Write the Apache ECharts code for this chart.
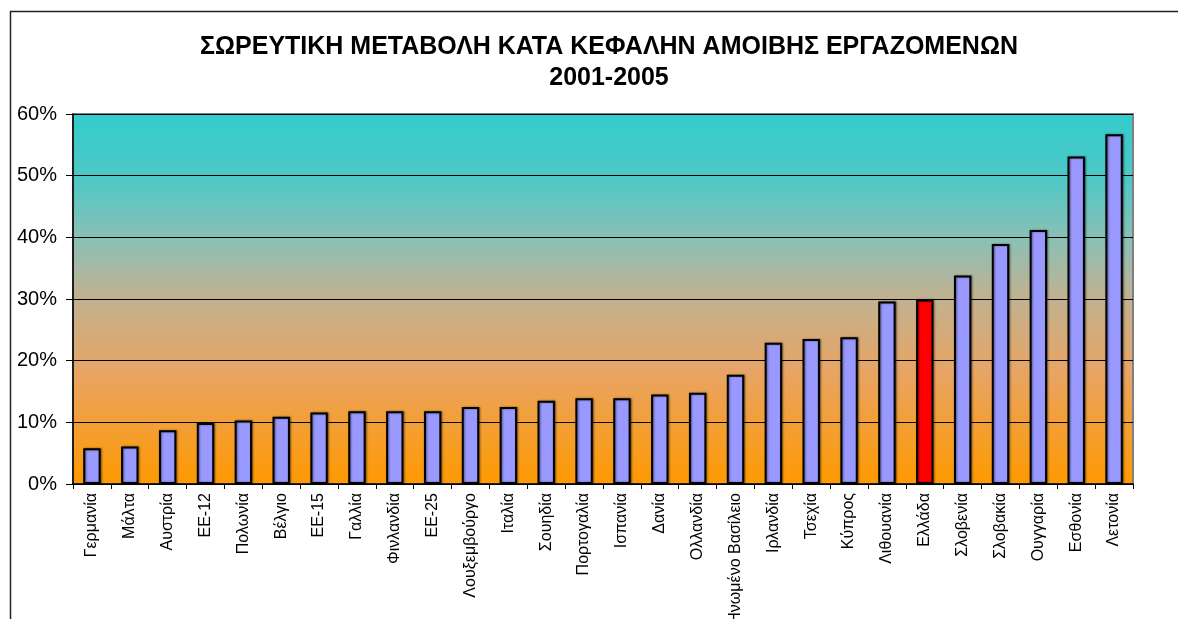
<!DOCTYPE html>
<html>
<head>
<meta charset="utf-8">
<script src="https://cdn.jsdelivr.net/npm/echarts@6/dist/echarts.min.js"></script>
<style>
  html, body { margin: 0; padding: 0; background: #fff; }
  #chart { width: 1178px; height: 619px; }
</style>
</head>
<body>
<div id="chart"></div>
<script>
(function () {
  "use strict";

  var TITLE = "ΣΩΡΕΥΤΙΚΗ ΜΕΤΑΒΟΛΗ ΚΑΤΑ ΚΕΦΑΛΗΝ ΑΜΟΙΒΗΣ ΕΡΓΑΖΟΜΕΝΩΝ\n2001-2005";

  var countries = [
    "Γερμανία", "Μάλτα", "Αυστρία", "ΕΕ-12", "Πολωνία", "Βέλγιο", "ΕΕ-15",
    "Γαλλία", "Φινλανδία", "ΕΕ-25", "Λουξεμβούργο", "Ιταλία", "Σουηδία",
    "Πορτογαλία", "Ισπανία", "Δανία", "Ολλανδία", "Ηνωμένο Βασίλειο",
    "Ιρλανδία", "Τσεχία", "Κύπρος", "Λιθουανία", "Ελλάδα", "Σλοβενία",
    "Σλοβακία", "Ουγγαρία", "Εσθονία", "Λετονία"
  ];

  // cumulative change, %
  var change = [
    5.8, 6.1, 8.7, 9.9, 10.3, 10.9, 11.6,
    11.8, 11.8, 11.8, 12.5, 12.5, 13.5,
    13.9, 13.9, 14.5, 14.8, 17.7,
    22.9, 23.5, 23.8, 29.6, 29.9, 33.8,
    38.9, 41.2, 53.1, 56.7
  ];

  var highlight = "Ελλάδα";

  var BAR = "#9999FF";
  var BAR_HI = "#FF0000";
  var FONT = "Arial, 'Liberation Sans', sans-serif";

  var chart = echarts.init(document.getElementById("chart"));

  chart.setOption({
    animation: false,
    backgroundColor: "#fff",
    title: {
      text: TITLE,
      left: 604,
      top: 27,
      textAlign: "center",
      textStyle: { fontFamily: FONT, fontSize: 25, fontWeight: "bold", color: "#000", lineHeight: 31 }
    },
    graphic: [{
      type: "rect",
      shape: { x: 10.5, y: 11.5, width: 1300, height: 800 },
      style: { fill: null, stroke: "#222", lineWidth: 1.5 },
      z: -1
    }],
    grid: {
      left: 73, top: 114, width: 1060, height: 370,
      outerBoundsMode: "none",
      containLabel: false,
      show: true,
      borderColor: "#808080",
      borderWidth: 2,
      backgroundColor: new echarts.graphic.LinearGradient(0, 0, 0, 1, [
        { offset: 0, color: "#33CCCC" },
        { offset: 0.17, color: "#4CC8C6" },
        { offset: 0.35, color: "#8EBFB4" },
        { offset: 0.5, color: "#C2B18F" },
        { offset: 0.7, color: "#E8A463" },
        { offset: 1, color: "#FF9900" }
      ])
    },
    xAxis: {
      type: "category",
      data: countries,
      axisLine: { lineStyle: { color: "#000", width: 1.5 } },
      axisTick: { show: true, length: 5, lineStyle: { color: "#000" } },
      axisLabel: { rotate: 90, interval: 0, margin: 9, fontFamily: FONT, fontSize: 16, color: "#000" }
    },
    yAxis: {
      type: "value",
      min: 0, max: 60, interval: 10,
      axisLine: { show: true, lineStyle: { color: "#000", width: 1.5 } },
      axisTick: { show: true, length: 7, lineStyle: { color: "#000" } },
      axisLabel: { formatter: "{value}%", margin: 16, fontFamily: FONT, fontSize: 20, color: "#000" },
      splitLine: { lineStyle: { color: "#000", width: 1 } }
    },
    series: [{
      type: "bar",
      barWidth: "46%",
      data: change.map(function (v, i) {
        return {
          value: v,
          itemStyle: { color: countries[i] === highlight ? BAR_HI : BAR }
        };
      }),
      itemStyle: {
        borderColor: "#000",
        borderWidth: 2,
        shadowColor: "rgba(0,0,0,0.45)",
        shadowBlur: 2,
        shadowOffsetX: 1,
        shadowOffsetY: 0
      }
    }]
  });
})();
</script>
</body>
</html>
